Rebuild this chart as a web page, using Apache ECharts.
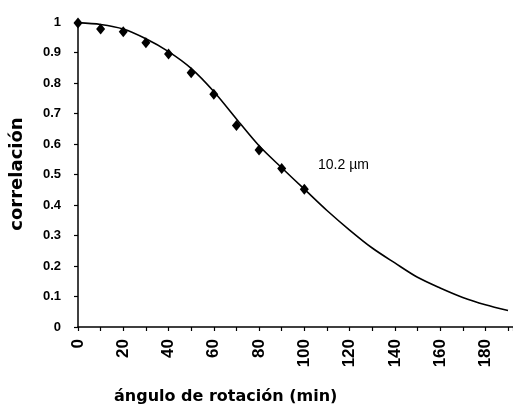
<!DOCTYPE html>
<html>
<head>
<meta charset="utf-8">
<script src="https://cdn.jsdelivr.net/npm/echarts@6/dist/echarts.min.js"></script>
<style>
  html, body { margin: 0; padding: 0; background: #fff; }
  #chart { width: 513px; height: 410px; }
</style>
</head>
<body>
<div id="chart"></div>
<script>
// measured points (diamonds)
const angles = [0, 10, 20, 30, 40, 50, 60, 70, 80, 90, 100];
const measured = [0.997, 0.977, 0.968, 0.932, 0.895, 0.834, 0.763, 0.661, 0.58, 0.52, 0.452];

// fitted curve, 10.2 µm
const fitAngles = [0, 10, 20, 30, 40, 50, 60, 70, 80, 90, 100, 110, 120, 130, 140, 150, 160, 170, 180, 190];
const fitCorr = [0.998, 0.992, 0.977, 0.945, 0.903, 0.848, 0.772, 0.682, 0.594, 0.522, 0.452, 0.382, 0.318, 0.259, 0.21, 0.163, 0.128, 0.097, 0.073, 0.054];

const curveLabel = "10.2 µm";

const chart = echarts.init(document.getElementById("chart"));

const option = {
  animation: false,
  backgroundColor: "#fff",
  grid: { left: 78, top: 22, right: 0, bottom: 83 },
  xAxis: {
    type: "value",
    min: 0,
    max: 192.2,
    interval: 10,
    splitLine: { show: false },
    axisLine: { lineStyle: { color: "#000", width: 1.5 } },
    axisTick: { length: 4, lineStyle: { color: "#000", width: 1.2 } },
    axisLabel: {
      rotate: 90,
      margin: 12,
      color: "#000",
      fontFamily: "Liberation Sans",
      fontWeight: "bold",
      fontSize: 17,
      formatter: (v) => (v % 20 === 0 && v <= 180 ? String(v) : ""),
    },
  },
  yAxis: {
    type: "value",
    min: 0,
    max: 1,
    interval: 0.1,
    splitLine: { show: false },
    axisLine: { show: true, lineStyle: { color: "#000", width: 1.5 } },
    axisTick: { show: true, length: 4, lineStyle: { color: "#000", width: 1.2 } },
    axisLabel: {
      margin: 17,
      color: "#000",
      fontFamily: "Liberation Sans",
      fontWeight: "bold",
      fontSize: 13,
    },
  },
  graphic: [
    {
      type: "text",
      x: 17,
      y: 174,
      rotation: Math.PI / 2,
      style: {
        text: "correlación",
        fill: "#000",
        font: "bold 18px 'DejaVu Sans'",
        align: "center",
        verticalAlign: "middle",
      },
    },
    {
      type: "text",
      left: 114,
      top: 389,
      style: {
        text: "ángulo de rotación (min)",
        fill: "#000",
        font: "bold 16px 'DejaVu Sans'",
      },
    },
    {
      type: "text",
      left: 318,
      top: 158,
      style: {
        text: curveLabel,
        fill: "#000",
        font: "14px 'Liberation Sans'",
      },
    },
  ],
  series: [
    {
      type: "line",
      data: fitAngles.map((a, i) => [a, fitCorr[i]]),
      smooth: 0.3,
      showSymbol: false,
      lineStyle: { color: "#000", width: 1.6 },
      z: 2,
    },
    {
      type: "scatter",
      data: angles.map((a, i) => [a, measured[i]]),
      symbol: "diamond",
      symbolSize: [9, 11],
      itemStyle: { color: "#000", opacity: 1 },
      z: 3,
    },
  ],
};

chart.setOption(option);
</script>
</body>
</html>
